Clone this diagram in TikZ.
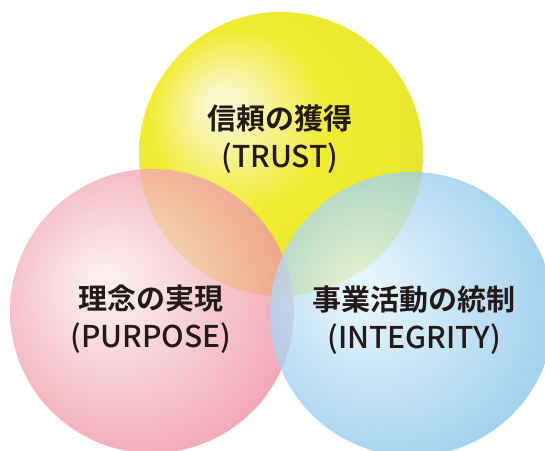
\documentclass[tikz,border=0pt]{standalone}
\usepackage{fontspec}
\usepackage{tikz}
\newfontfamily\jpfont{Noto Sans CJK JP Bold}
\newfontfamily\enfont{Noto Sans CJK JP Medium}

\definecolor{trustlight}{RGB}{250,247,200}
\definecolor{trustedge}{RGB}{226,230,45}
\definecolor{trustmid}{RGB}{240,236,48}
\definecolor{purposelight}{RGB}{251,232,234}
\definecolor{purposeedge}{RGB}{236,128,148}
\definecolor{integritylight}{RGB}{222,242,252}
\definecolor{integrityedge}{RGB}{122,188,230}
\definecolor{inktext}{RGB}{35,25,22}

\pgfdeclareradialshading{trustball}{\pgfpoint{-11bp}{9bp}}{color(0bp)=(trustlight); color(3bp)=(trustlight); color(16bp)=(trustmid); color(36bp)=(trustedge); color(50bp)=(trustedge)}
\pgfdeclareradialshading{purposeball}{\pgfpoint{-9bp}{5bp}}{color(0bp)=(purposelight); color(3bp)=(purposelight); color(34bp)=(purposeedge); color(50bp)=(purposeedge)}
\pgfdeclareradialshading{integrityball}{\pgfpoint{-10bp}{5bp}}{color(0bp)=(integritylight); color(3bp)=(integritylight); color(34bp)=(integrityedge); color(50bp)=(integrityedge)}

\newcommand{\enline}[1]{{\enfont\fontsize{30}{38}\selectfont #1}}

\begin{document}
\begin{tikzpicture}[x=1pt,y=1pt,
  ball/.style={circle,inner sep=0pt,minimum size=284pt,shade},
  caption/.style={align=center,text=inktext,font=\jpfont\fontsize{29}{38}\selectfont}]
\useasboundingbox (0,0) rectangle (545,450);
\node [ball,shading=trustball] (trustball) at(281,296){};
\node [ball,shading=purposeball,fill opacity=0.78] (purposeball) at(152,139){};
\node [ball,shading=integrityball,fill opacity=0.78] (integrityball) at(412,136){};
\node [caption] (trust) at(280,311){信頼の獲得\\\enline{(TRUST)}};
\node [caption] (purpose) at(151,131){理念の実現\\\enline{(PURPOSE)}};
\node [caption] (integrity) at(414,130){事業活動の統制\\\enline{(INTEGRITY)}};
\end{tikzpicture}
\end{document}
